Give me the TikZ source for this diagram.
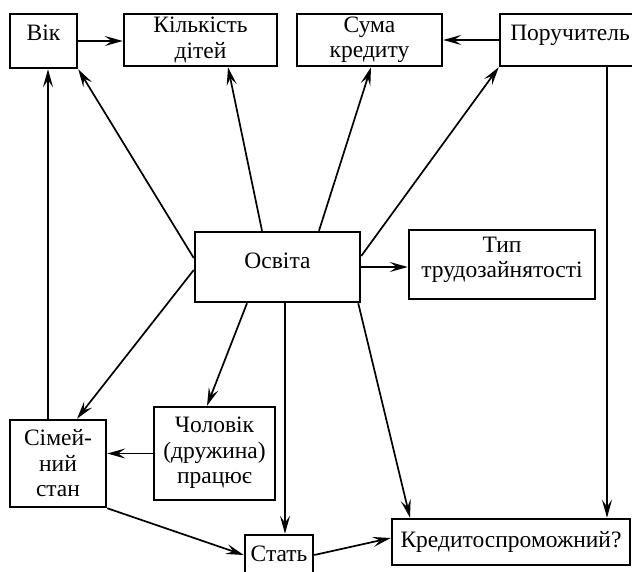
\documentclass[tikz,border=0pt]{standalone}
\usepackage{fontspec}
\setmainfont{Liberation Serif}
\usetikzlibrary{arrows.meta}

\begin{document}
\begin{tikzpicture}[x=1pt,y=-1pt,>={Stealth[length=18pt,width=10pt,inset=7pt]},line width=1.7pt,
	main node/.style={rectangle, draw, line width=2.5pt, inner sep=0pt, align=center, font=\rmfamily\fontsize{23.5}{25.5}\selectfont}]
			\useasboundingbox (0,0) rectangle (632,572);
			% Nodes
			\node[main node, minimum width=165, minimum height=70, text depth=12pt] (1) at (277.5,267) {Освіта};
			\node[main node, minimum width=67, minimum height=54, text depth=16pt] (2) at (43.5,41) {Вік};
			\node[main node, minimum width=153, minimum height=52] (3) at (200.5,40) {Кількість\\дітей};
			\node[main node, minimum width=145, minimum height=52] (4) at (369.5,40) {Сума\\кредиту};
			\node[main node, minimum width=140, minimum height=52, text depth=14pt] (5) at (570,40) {Поручитель};
			\node[main node, minimum width=186, minimum height=69, text depth=14pt] (6) at (502,264.5) {Тип\\трудозайнятості};
			\node[main node, minimum width=96, minimum height=87] (7) at (58,463.5) {Сімей-\\ний\\стан};
			\node[main node, minimum width=121, minimum height=93, text depth=6pt] (8) at (214.5,453.5) {Чоловік\\(дружина)\\працює};
			\node[main node, minimum width=68, minimum height=40, text depth=3pt] (9) at (279,555) {Стать};
			\node[main node, minimum width=238, minimum height=46] (10) at (511,542) {Кредитоспроможний?};
			
			% Edges
			\path[->]
			([yshift=9]1.west) edge (2.south east)
			([yshift=-3]1.west) edge ([xshift=19]7.north)
			([xshift=-15.5]1.north) edge ([xshift=27.5]3.south)
			([xshift=41.5]1.north) edge ([xshift=1.5]4.south)
			([yshift=11]1.east) edge (5.south west)
			(1.east) edge (1.east -| 6.west)
			([xshift=-30.5]1.south) edge ([xshift=-7.5]8.north)
			([xshift=7.5]1.south) edge ([xshift=7.5]1.south |- 9.north)
			([xshift=-3]1.south east) edge ([xshift=-101]10.north);
			
			\path[->]
			([xshift=-10]7.north) edge ([xshift=-10]7.north |- 2.south)
			(2.east) edge (2.east -| 3.west)
			(5.west) edge (4.east)
			([xshift=37]5.south) edge ([xshift=37]5.south |- 10.north)
			(8.west) edge (8.west -| 7.east)
			(7.south east) edge (9.west)
			(9.east) edge ([yshift=4]10.west);
			
		\end{tikzpicture}
\end{document}
